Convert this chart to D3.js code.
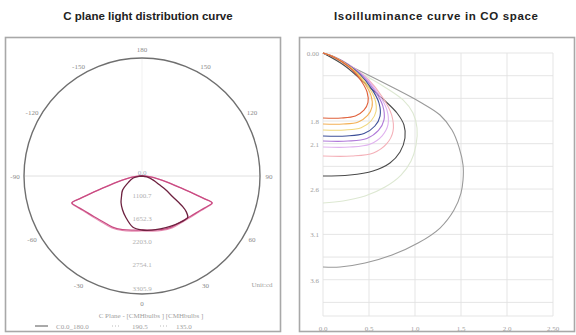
<!DOCTYPE html>
<html><head><meta charset="utf-8">
<script src="https://cdn.jsdelivr.net/npm/d3@7"></script>
<style>body{margin:0;background:#fff}svg{display:block}</style>
</head><body><svg id="c" width="576" height="335"></svg>
<script>
// ---------- titles ----------
const titles = ["C plane light distribution curve", "Isoilluminance curve in CO space"];

// ---------- polar (C plane) data ----------
const ringValues = [0, 551, 1102, 1653, 2204, 2755];
const ringLabels = ["0.0", "1100.7", "1652.3", "2203.0", "2754.1", "3305.9"];
const angleTicks = [-150, -120, -90, -60, -30, 0, 30, 60, 90, 120, 150, 180];
const angleLabels = ["-150", "-120", "-90", "-60", "-30", "0", "30", "60", "90", "120", "150", "180"];

// C0 / C180 plane (gamma angle from nadir, candela)
const c0Angles   = [0, 10, 20, 30, 40, 50, 60, 65, 69, 70, 71, 73, 76, 80, 85, 90];
const c0Values   = [1281, 1305, 1353, 1400, 1424, 1495, 1614, 1709, 1780, 1566, 1305, 949, 641, 380, 166, 0];
const c180Angles = [0, 10, 20, 30, 40, 50, 60, 65, 69, 70, 71, 73, 76, 80, 85, 90];
const c180Values = [1281, 1305, 1353, 1400, 1424, 1495, 1614, 1709, 1780, 1566, 1305, 949, 641, 380, 166, 0];
// second (lighter) trace close to C0/C180
const c45Values  = [1305, 1330, 1378, 1425, 1450, 1518, 1632, 1722, 1790, 1595, 1335, 975, 665, 398, 178, 0];
// C90 / C270 plane
const c90Angles  = [0, 10, 19, 30, 39, 45, 48, 51, 53, 56, 60, 63, 70, 79, 90];
const c90Values  = [1281, 1305, 1329, 1376, 1424, 1459, 1462, 1353, 1210, 878, 641, 475, 285, 119, 0];
const c270Angles = [0, 10, 22, 30, 38, 45, 54, 65, 77, 85, 90];
const c270Values = [1281, 1234, 1044, 925, 807, 688, 570, 356, 214, 71, 0];

const legendTitle = "C Plane - [CMHbulbs ] [CMHbulbs ]";
const legendItems = ["C0.0_180.0", "190.5", "135.0"];
const unitLabel = "Unit:cd";

// ---------- isolux (CO space) data ----------
const xTicks = [0, 0.5, 1.0, 1.5, 2.0, 2.5];
const xTickLabels = ["0.0", "0.5", "1.0", "1.5", "2.0", "2.50"];
const yGrid = [0, 0.25, 0.5, 0.75, 1.0, 1.25, 1.5, 1.75, 2.0, 2.25, 2.5, 2.75, 2.9];
const yTicks = [0, 0.75, 1.0, 1.5, 2.0, 2.5];
const yTickLabels = ["0.00", "1.8", "2.1", "2.6", "3.1", "3.6"];

const curveColors = ["#e0603a", "#f3b055", "#f0d77c", "#3d4f98", "#b07ad9", "#e0b2ef", "#f4b0b8", "#4a4a4a", "#dde8d2", "#9a9a9a"];
const curveX = [
  [0, .083, .200, .318, .416, .479, .489, .445, .352, .200, 0],
  [0, .091, .219, .346, .453, .522, .533, .485, .384, .219, 0],
  [0, .098, .236, .374, .490, .564, .576, .524, .415, .236, 0],
  [0, .105, .254, .403, .527, .608, .620, .564, .446, .254, 0],
  [0, .113, .272, .431, .564, .650, .663, .603, .477, .272, 0],
  [0, .120, .290, .460, .601, .693, .707, .643, .509, .290, 0],
  [0, .129, .312, .495, .647, .746, .761, .693, .548, .312, 0],
  [0, .239, .478, .663, .804, .880, .891, .837, .728, .543, .293, 0],
  [0, .326, .652, .870, .978, 1.022, 1.011, .957, .848, .674, .457, .217, 0],
  [0, .359, .728, 1.054, 1.272, 1.402, 1.478, 1.522, 1.522, 1.500, 1.424, 1.272, 1.033, .750, .457, .185, 0]
];
const curveY = [
  [0, .029, .093, .186, .308, .430, .545, .631, .695, .717, .717],
  [0, .031, .102, .204, .337, .470, .595, .689, .760, .783, .783],
  [0, .034, .110, .221, .365, .509, .645, .747, .824, .849, .849],
  [0, .037, .119, .238, .393, .549, .695, .805, .888, .915, .915],
  [0, .039, .126, .252, .418, .583, .738, .854, .942, .971, .971],
  [0, .041, .135, .270, .446, .622, .788, .913, 1.006, 1.037, 1.037],
  [0, .045, .148, .295, .488, .682, .863, 1.000, 1.102, 1.136, 1.136],
  [0, .143, .353, .518, .662, .794, .937, 1.092, 1.213, 1.301, 1.346, 1.357],
  [0, .176, .364, .518, .662, .827, 1.015, 1.191, 1.346, 1.478, 1.577, 1.632, 1.654],
  [0, .176, .364, .540, .684, .849, 1.037, 1.235, 1.401, 1.544, 1.732, 1.930, 2.096, 2.228, 2.316, 2.360, 2.360]
];

// ---------- drawing ----------
const svg = d3.select("#c");
const smallFont = "'Liberation Serif', 'DejaVu Serif', serif";
const titleFont = "'Liberation Sans', Arial, sans-serif";

// titles
svg.append("text").attr("x", 148).attr("y", 19.5).attr("text-anchor", "middle")
  .attr("font-family", titleFont).attr("font-weight", "bold").attr("font-size", 11.5)
  .attr("fill", "#222").text(titles[0]);
svg.append("text").attr("x", 436).attr("y", 19.5).attr("text-anchor", "middle")
  .attr("font-family", titleFont).attr("font-weight", "bold").attr("font-size", 11.5)
  .attr("textLength", 204).attr("lengthAdjust", "spacing").attr("fill", "#222").text(titles[1]);

// frames
svg.append("rect").attr("x", 5.5).attr("y", 37.5).attr("width", 275).attr("height", 294)
  .attr("fill", "#fff").attr("stroke", "#a8a8a8").attr("stroke-width", 1.6);
svg.append("rect").attr("x", 299.5).attr("y", 37.5).attr("width", 275).attr("height", 294)
  .attr("fill", "#fff").attr("stroke", "#a8a8a8").attr("stroke-width", 1.6);

// ---- polar chart ----
const cx = 142, cy = 176;
const r = d3.scaleLinear().domain([0, 2800]).range([0, 118]);
const toRad = d => d * Math.PI / 180;
const pg = svg.append("g").attr("transform", `translate(${cx},${cy})`);

// grid: horizontal diameter and upward vertical
[-90, 90, 180].forEach(a => {
  const t = toRad(a);
  pg.append("line").attr("x1", 0).attr("y1", 0)
    .attr("x2", r(2800) * Math.sin(t)).attr("y2", r(2800) * Math.cos(t))
    .attr("stroke", a === 180 ? "#efefef" : "#dcdcdc").attr("stroke-width", 0.9);
});
// outer circle
pg.append("circle").attr("r", r(2800)).attr("fill", "none").attr("stroke", "#6f6f6f").attr("stroke-width", 1.4);

// angle labels
const R = 127;
angleTicks.forEach((a, i) => {
  const t = toRad(a);
  pg.append("text").attr("x", R * Math.sin(t)).attr("y", R * Math.cos(t) + 2.5)
    .attr("text-anchor", "middle").attr("font-family", smallFont).attr("font-size", 7)
    .attr("fill", "#8a8a8a").text(angleLabels[i]);
});
// ring labels
ringValues.forEach((v, i) => {
  pg.append("text").attr("x", 0).attr("y", r(v) - 1.5).attr("text-anchor", "middle")
    .attr("font-family", smallFont).attr("font-size", 7)
    .attr("fill", i === 0 ? "#9ab0c0" : "#b0b0b0").text(ringLabels[i]);
});

const radial = d3.lineRadial().angle(d => Math.PI - toRad(d[0])).radius(d => r(d[1]))
  .curve(d3.curveCatmullRom.alpha(0.5));
function plane(leftA, leftV, rightA, rightV) {
  const left = leftA.map((a, i) => [-a, leftV[i]]).reverse();
  const right = rightA.map((a, i) => [a, rightV[i]]).slice(1);
  return left.concat(right);
}
pg.append("path").attr("d", radial(plane(c180Angles, c45Values, c0Angles, c45Values)))
  .attr("fill", "none").attr("stroke", "#e892b6").attr("stroke-width", 1.1);
pg.append("path").attr("d", radial(plane(c180Angles, c180Values, c0Angles, c0Values)))
  .attr("fill", "none").attr("stroke", "#c94b82").attr("stroke-width", 1.3);
pg.append("path").attr("d", radial(plane(c270Angles, c270Values, c90Angles, c90Values)))
  .attr("fill", "none").attr("stroke", "#6e2240").attr("stroke-width", 1.3);

// unit + legend
svg.append("text").attr("x", 262).attr("y", 287).attr("text-anchor", "middle")
  .attr("font-family", smallFont).attr("font-size", 7).attr("fill", "#a0a0a0").text(unitLabel);
svg.append("text").attr("x", 151).attr("y", 318).attr("text-anchor", "middle")
  .attr("font-family", smallFont).attr("font-size", 7).attr("fill", "#a0a0a0").text(legendTitle);
svg.append("line").attr("x1", 35).attr("x2", 48).attr("y1", 326).attr("y2", 326)
  .attr("stroke", "#555").attr("stroke-width", 1);
const legX = [56, 132, 176];
legendItems.forEach((t, i) => {
  svg.append("text").attr("x", legX[i]).attr("y", 328.5).attr("font-family", smallFont)
    .attr("font-size", 7).attr("fill", "#a0a0a0").text(t);
});
[112, 160].forEach(xx => {
  svg.append("line").attr("x1", xx).attr("x2", xx + 8).attr("y1", 326).attr("y2", 326)
    .attr("stroke", "#bbb").attr("stroke-width", 1).attr("stroke-dasharray", "1,2");
});

// ---- isolux chart ----
const x = d3.scaleLinear().domain([0, 2.5]).range([323, 553]);
const y = d3.scaleLinear().domain([0, 2.9]).range([53, 316]);
const gg = svg.append("g");
yGrid.forEach(v => {
  gg.append("line").attr("x1", x(0)).attr("x2", x(2.5)).attr("y1", y(v)).attr("y2", y(v))
    .attr("stroke", "#e2e2e2").attr("stroke-width", 0.9);
});
xTicks.forEach(v => {
  gg.append("line").attr("x1", x(v)).attr("x2", x(v)).attr("y1", y(0)).attr("y2", y(2.9))
    .attr("stroke", "#e2e2e2").attr("stroke-width", 0.9);
});
xTicks.forEach((v, i) => {
  gg.append("text").attr("x", x(v)).attr("y", 330.5).attr("text-anchor", "middle")
    .attr("font-family", smallFont).attr("font-size", 7).attr("fill", "#a0a0a0").text(xTickLabels[i]);
});
yTicks.forEach((v, i) => {
  gg.append("text").attr("x", 319).attr("y", y(v) + 3).attr("text-anchor", "end")
    .attr("font-family", smallFont).attr("font-size", 7).attr("fill", "#a0a0a0").text(yTickLabels[i]);
});

const iso = d3.line().x(d => x(d[0])).y(d => y(d[1])).curve(d3.curveCatmullRom.alpha(0.5));
for (let k = curveX.length - 1; k >= 0; k--) {
  const pts = curveX[k].map((v, i) => [v, curveY[k][i]]);
  gg.append("path").attr("d", iso(pts)).attr("fill", "none")
    .attr("stroke", curveColors[k]).attr("stroke-width", 1.1);
}
</script>
</body></html>
